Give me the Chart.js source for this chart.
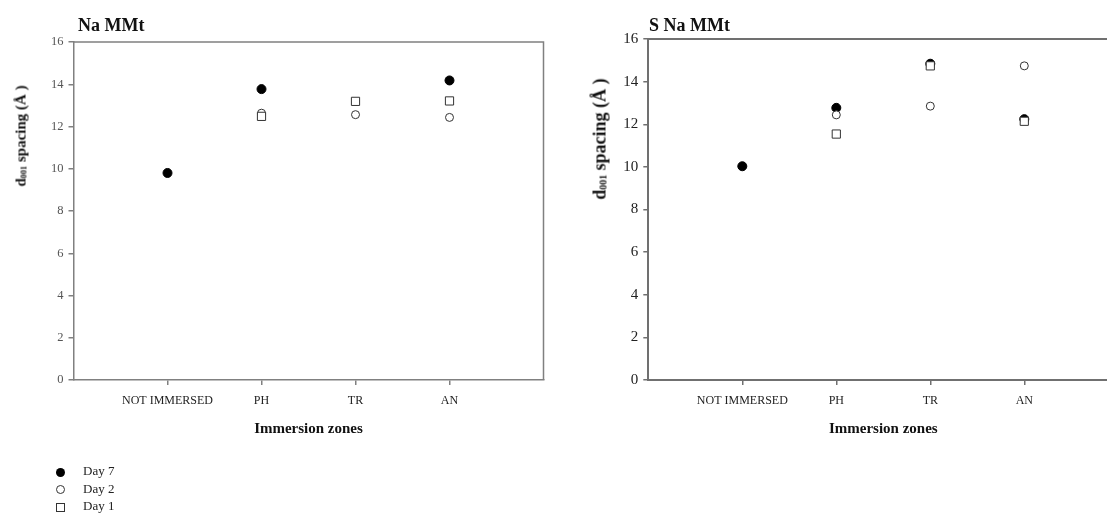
<!DOCTYPE html>
<html>
<head>
<meta charset="utf-8">
<script src="https://cdn.jsdelivr.net/npm/chart.js@4.4.1/dist/chart.umd.min.js"></script>
<style>
  html, body { margin: 0; padding: 0; width: 1107px; height: 514px; overflow: hidden; background: #fff; font-family: "Liberation Serif", serif; }
  canvas { position: absolute; top: 0; }
  #naChart { left: 0; }
  #sChart { left: 560px; }
  .ttl { position: absolute; top: 15px; font-weight: bold; font-size: 18px; color: #111; white-space: nowrap; }
  .ylab { position: absolute; font-weight: bold; white-space: nowrap; color: #111; transform: translate(-50%, -50%) rotate(-90deg); }
  .ylab sub { font-size: 55%; vertical-align: -0.1em; }
  #legend { position: absolute; left: 56px; top: 462px; font-size: 13px; color: #222; }
  #legend div { height: 17.5px; line-height: 17.5px; white-space: nowrap; }
  #legend i { display: inline-block; box-sizing: border-box; vertical-align: middle; margin-right: 18px; }
  .sym-fill { width: 9px; height: 9px; border-radius: 50%; background: #000; }
  .sym-open { width: 9px; height: 9px; border-radius: 50%; border: 1px solid #333; background: #fff; }
  .sym-sq { width: 9px; height: 9px; border: 1px solid #333; background: #fff; }
</style>
</head>
<body>
<canvas id="naChart" width="560" height="514"></canvas>
<canvas id="sChart" width="580" height="514"></canvas>
<div class="ttl" style="left:78px">Na MMt</div>
<div class="ttl" style="left:649px">S Na MMt</div>
<div class="ylab" style="left:21px; top:136px; font-size:15px">d<sub>001</sub> spacing (Å )</div>
<div class="ylab" style="left:600px; top:139px; font-size:18px">d<sub>001</sub> spacing (Å )</div>
<div id="legend"></div>
<script>
// immersion zones on the x axis
const zones = ['NOT IMMERSED', 'PH', 'TR', 'AN'];
const seriesNames = ['Day 7', 'Day 2', 'Day 1'];

// Na MMt, d001 spacing (Å)
const naDay7 = [9.8, 13.77, null, 14.18];
const naDay2 = [null, 12.63, 12.56, 12.43];
const naDay1 = [null, 12.48, 13.19, 13.21];

// S Na MMt, d001 spacing (Å)
const sDay7 = [10.03, 12.77, 14.84, 12.24];
const sDay2 = [null, 12.44, 12.85, 14.74];
const sDay1 = [null, 11.54, 14.74, 12.14];

const yMin = 0, yMax = 16, yStep = 2;

const styles = [
  { pointStyle: 'circle', pointRadius: 4.5, backgroundColor: '#000', borderColor: '#000', cls: 'sym-fill' },
  { pointStyle: 'circle', pointRadius: 4, backgroundColor: '#fff', borderColor: '#333', cls: 'sym-open' },
  { pointStyle: 'rect', pointRadius: 5.8, backgroundColor: '#fff', borderColor: '#333', cls: 'sym-sq' }
];

function toPoints(arr) {
  return arr.map((v, i) => v == null ? null : { x: i + 1, y: v }).filter(p => p);
}

// top and right edge of the plot frame
const frame = {
  id: 'frame',
  beforeDatasetsDraw(chart, args, opts) {
    const { ctx, chartArea: a } = chart;
    ctx.save();
    ctx.strokeStyle = opts.color;
    ctx.lineWidth = opts.width;
    ctx.beginPath();
    ctx.moveTo(a.left, a.top);
    ctx.lineTo(a.right, a.top);
    ctx.lineTo(a.right, a.bottom);
    ctx.stroke();
    ctx.restore();
  }
};

function makeChart(id, series, o) {
  const datasets = series.map((arr, k) => ({
    label: seriesNames[k],
    data: toPoints(arr),
    order: 2 - k,
    pointStyle: styles[k].pointStyle,
    pointRadius: styles[k].pointRadius,
    pointHoverRadius: styles[k].pointRadius,
    backgroundColor: styles[k].backgroundColor,
    borderColor: styles[k].borderColor,
    borderWidth: 1
  }));
  return new Chart(document.getElementById(id), {
    type: 'scatter',
    data: { datasets: datasets },
    plugins: [frame],
    options: {
      responsive: false,
      animation: false,
      layout: { padding: { left: 0, top: o.top, right: o.right, bottom: 76 } },
      plugins: {
        legend: { display: false },
        tooltip: { enabled: false },
        frame: { color: o.lineColor, width: o.lineWidth }
      },
      scales: {
        x: {
          type: 'linear',
          min: 0,
          max: zones.length + 1,
          afterBuildTicks: s => { s.ticks = zones.map((z, i) => ({ value: i + 1 })); },
          afterFit: s => { s.height = 58; },
          grid: { drawOnChartArea: false, tickLength: 5, color: o.lineColor, lineWidth: 1.5 },
          border: { display: true, color: o.lineColor, width: o.lineWidth },
          ticks: {
            autoSkip: false, maxRotation: 0, padding: 9,
            color: '#222', font: { family: 'Liberation Serif', size: 12 },
            callback: v => zones[v - 1]
          },
          title: {
            display: true, text: 'Immersion zones', color: '#111',
            padding: { top: 0, bottom: 0 },
            font: { family: 'Liberation Serif', size: 15, weight: 'bold' }
          }
        },
        y: {
          min: yMin,
          max: yMax,
          afterFit: s => { s.width = o.yWidth; },
          grid: { drawOnChartArea: false, tickLength: 5, color: o.lineColor, lineWidth: 1.5 },
          border: { display: true, color: o.lineColor, width: o.lineWidth },
          ticks: {
            stepSize: yStep, padding: 5,
            color: o.tickColor, font: { family: 'Liberation Serif', size: o.tickSize }
          }
        }
      }
    }
  });
}

makeChart('naChart', [naDay7, naDay2, naDay1],
  { top: 42, right: 16.5, yWidth: 73.5, tickSize: 12.5, tickColor: '#555', lineColor: '#808080', lineWidth: 1.5 });
makeChart('sChart', [sDay7, sDay2, sDay1],
  { top: 39, right: 21.7, yWidth: 88.3, tickSize: 15, tickColor: '#222', lineColor: '#707070', lineWidth: 2 });

// legend built from the series names and marker styles
const legend = document.getElementById('legend');
seriesNames.forEach((name, k) => {
  const row = document.createElement('div');
  const sym = document.createElement('i');
  sym.className = styles[k].cls;
  row.appendChild(sym);
  row.appendChild(document.createTextNode(name));
  legend.appendChild(row);
});
</script>
</body>
</html>
